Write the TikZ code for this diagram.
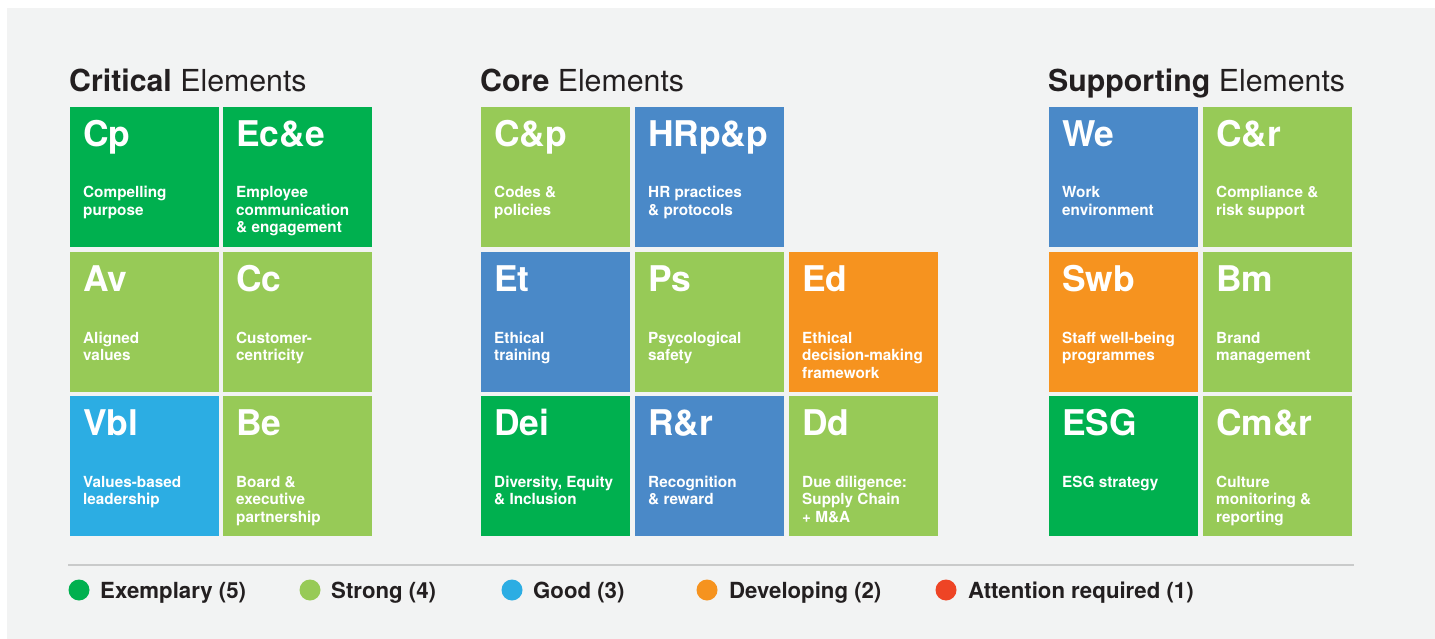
\documentclass[tikz,border=0pt]{standalone}
\usepackage{fontspec}
\setmainfont{TeX Gyre Heros}
\usetikzlibrary{calc}
\definecolor{dkgreen}{HTML}{00B04F}
\definecolor{ltgreen}{HTML}{97CA57}
\definecolor{cyanblue}{HTML}{2CADE3}
\definecolor{steelblue}{HTML}{4A89C8}
\definecolor{orangec}{HTML}{F6931F}
\definecolor{redc}{HTML}{EE4425}
\definecolor{panelgray}{HTML}{F2F3F3}
\definecolor{inkc}{HTML}{231F20}
\definecolor{rulegray}{HTML}{C9CACA}
\tikzset{
  tile/.style={draw=none, minimum width=149pt, minimum height=140pt, anchor=north west, inner sep=0pt, outer sep=0pt},
  abbr/.style={text=white, font=\fontsize{35.4}{36}\selectfont\bfseries, anchor=base west, inner sep=0pt},
  desc/.style={text=white, font=\fontsize{15.3}{17.5}\selectfont\bfseries, anchor=base west, inner sep=0pt},
  heading/.style={text=inkc, font=\fontsize{30.3}{31}\selectfont, anchor=base west, inner sep=0pt},
  dot/.style={circle, draw=none, minimum size=21pt, inner sep=0pt},
  legtext/.style={text=inkc, font=\fontsize{22.2}{24}\selectfont\bfseries, anchor=base west, inner sep=0pt}
}
\newcommand{\mytile}[6]{%
  \node[tile, fill=#4] (#1) at (#2,#3) {};
  \node[abbr] (#1-a) at ($(#1.north west)+(13,39.5)$) {#5};
  \node[desc] (#1-d) at ($(#1.north west)+(13,91)$) {\begin{tabular}[t]{@{}l@{}}#6\end{tabular}};
}
\begin{document}
\begin{tikzpicture}[x=1pt,y=-1pt]
\useasboundingbox (0,0) rectangle (1435,639);
\fill[white] (0,0) rectangle (1435,639);
\fill[panelgray] (7,8) rectangle (1435,639);
% headings
\node[heading] (h1) at (69,91.5) {\textbf{Critical} Elements};
\node[heading] (h2) at (480,91.5) {\textbf{Core} Elements};
\node[heading] (h3) at (1048,91.5) {\textbf{Supporting} Elements};
% Critical
\mytile{cp}{70}{107}{dkgreen}{Cp}{Compelling\\purpose}
\mytile{ece}{223}{107}{dkgreen}{Ec\&e}{Employee\\communication\\\& engagement}
\mytile{av}{70}{252}{ltgreen}{Av}{Aligned\\values}
\mytile{cc}{223}{252}{ltgreen}{Cc}{Customer-\\centricity}
\mytile{vbl}{70}{396}{cyanblue}{Vbl}{Values-based\\leadership}
\mytile{be}{223}{396}{ltgreen}{Be}{Board \&\\executive\\partnership}
% Core
\mytile{cnp}{481}{107}{ltgreen}{C\&p}{Codes \&\\policies}
\mytile{hrpp}{635}{107}{steelblue}{HRp\&p}{HR practices\\\& protocols}
\mytile{et}{481}{252}{steelblue}{Et}{Ethical\\training}
\mytile{ps}{635}{252}{ltgreen}{Ps}{Psycological\\safety}
\mytile{ed}{789}{252}{orangec}{Ed}{Ethical\\decision-making\\framework}
\mytile{dei}{481}{396}{dkgreen}{Dei}{Diversity, Equity\\\& Inclusion}
\mytile{rr}{635}{396}{steelblue}{R\&r}{Recognition\\\& reward}
\mytile{dd}{789}{396}{ltgreen}{Dd}{Due diligence:\\Supply Chain\\+ M\&A}
% Supporting
\mytile{we}{1049}{107}{steelblue}{We}{Work\\environment}
\mytile{cr}{1203}{107}{ltgreen}{C\&r}{Compliance \&\\risk support}
\mytile{swb}{1049}{252}{orangec}{Swb}{Staff well-being\\programmes}
\mytile{bm}{1203}{252}{ltgreen}{Bm}{Brand\\management}
\mytile{esg}{1049}{396}{dkgreen}{ESG}{ESG strategy}
\mytile{cmr}{1203}{396}{ltgreen}{Cm\&r}{Culture\\monitoring \&\\reporting}
% rule
\coordinate (rl) at (68,565);
\coordinate (rr) at (1354,565);
\draw[rulegray, line width=1.2pt] (rl) -- (rr);
% legend
\node[dot, fill=dkgreen] (l1) at (79,590) {};
\node[legtext] (t1) at (100,598) {Exemplary (5)};
\node[dot, fill=ltgreen] (l2) at (310,590) {};
\node[legtext] (t2) at (331,598) {Strong (4)};
\node[dot, fill=cyanblue] (l3) at (512,590) {};
\node[legtext] (t3) at (533,598) {Good (3)};
\node[dot, fill=orangec] (l4) at (707,590) {};
\node[legtext] (t4) at (729,598) {Developing (2)};
\node[dot, fill=redc] (l5) at (946,590) {};
\node[legtext] (t5) at (968,598) {Attention required (1)};
\end{tikzpicture}
\end{document}
